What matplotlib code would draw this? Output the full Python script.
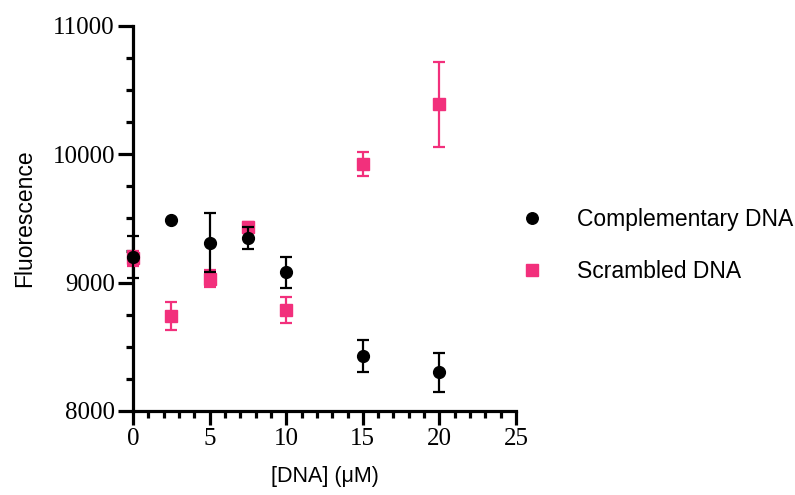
import matplotlib
matplotlib.use("Agg")
import matplotlib.pyplot as plt
from matplotlib.lines import Line2D
from matplotlib.ticker import MultipleLocator

# Concentration of added DNA (uM)
conc = [0, 2.5, 5, 7.5, 10, 15, 20]

# Complementary DNA: mean fluorescence and error
comp_mean = [9200, 9490, 9310, 9350, 9080, 8425, 8300]
comp_err = [160, 0, 230, 85, 120, 125, 155]

# Scrambled DNA: mean fluorescence and error
scr_mean = [9190, 8740, 9030, 9430, 8785, 9925, 10390]
scr_err = [60, 110, 65, 40, 100, 90, 330]

x_ticks = [0, 5, 10, 15, 20, 25]
y_ticks = [8000, 9000, 10000, 11000]

pink = "#F2307C"
serif = "Liberation Serif"
sans = "Liberation Sans"

fig = plt.figure(figsize=(7.95, 4.95), dpi=100)
ax = fig.add_axes([0.1673, 0.1697, 0.4818, 0.7778])

ax.errorbar(conc, scr_mean, yerr=scr_err, fmt="s", color=pink, ms=8.5,
            ecolor=pink, elinewidth=1.6, capsize=4.5, capthick=1.6,
            clip_on=False, zorder=3)
ax.errorbar(conc, comp_mean, yerr=comp_err, fmt="o", color="black", ms=8.5,
            ecolor="black", elinewidth=1.6, capsize=4.5, capthick=1.6,
            clip_on=False, zorder=4)

ax.set_xlim(0, 25)
ax.set_ylim(8000, 11000)
ax.set_xticks(x_ticks)
ax.set_yticks(y_ticks)
ax.xaxis.set_minor_locator(MultipleLocator(1))
ax.yaxis.set_minor_locator(MultipleLocator(250))

for side in ("top", "right"):
    ax.spines[side].set_visible(False)
for side in ("left", "bottom"):
    ax.spines[side].set_linewidth(2.3)

ax.tick_params(axis="both", which="major", direction="out", width=2.3, length=10,
               pad=2)
ax.tick_params(axis="both", which="minor", direction="out", width=2.3, length=5)
ax.tick_params(axis="y", which="major", length=11)

for lbl in ax.get_xticklabels() + ax.get_yticklabels():
    lbl.set_fontfamily(serif)
    lbl.set_fontsize(18)

ax.set_xlabel("[DNA] (μM)", fontfamily=sans, fontsize=15.5, labelpad=12)
ax.set_ylabel("Fluorescence", fontfamily=sans, fontsize=16.5, labelpad=12)

handles = [
    Line2D([], [], ls="none", marker="o", color="black", ms=8.3),
    Line2D([], [], ls="none", marker="s", color=pink, ms=8.3),
]
labels = ["Complementary DNA", "Scrambled DNA"]
ax.legend(handles, labels, loc="center left",
          bbox_to_anchor=(1.012, 0.43), frameon=False, borderaxespad=0,
          borderpad=0, prop={"family": sans, "size": 16.5}, handlelength=1.0,
          handletextpad=1.46, labelspacing=1.3)

fig.savefig("out.png", dpi=100)
